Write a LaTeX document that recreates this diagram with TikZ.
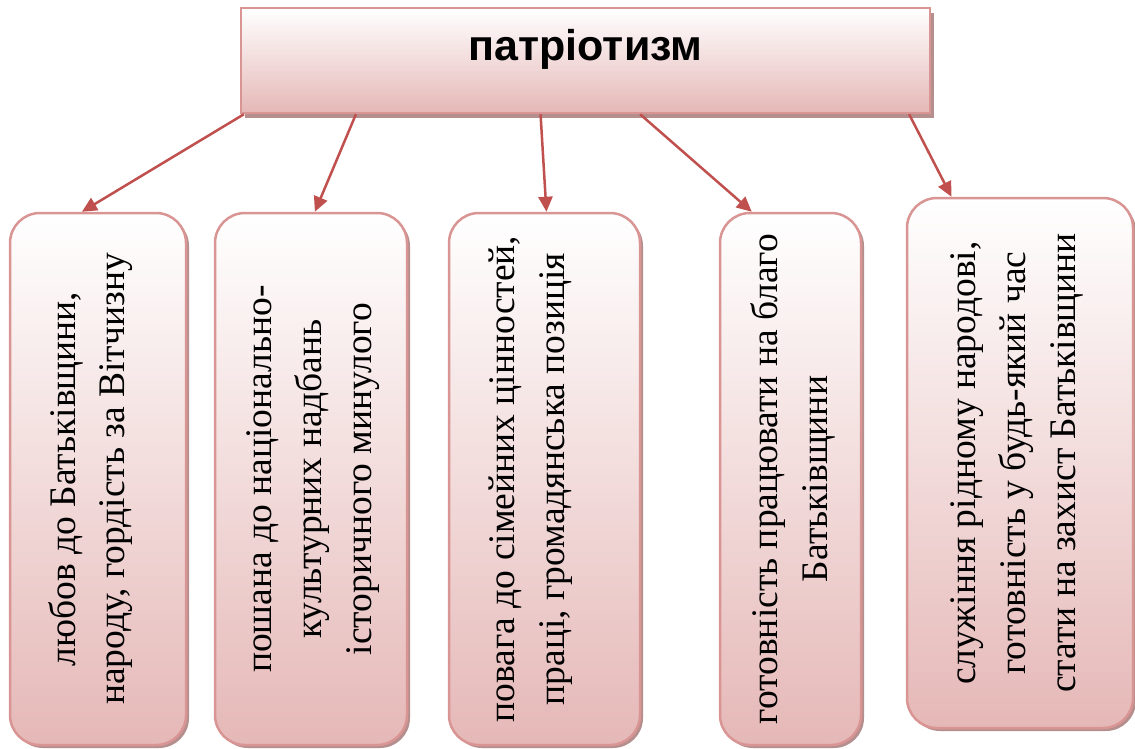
\documentclass[tikz,border=0pt]{standalone}
\usepackage{fontspec}
\setmainfont{Liberation Serif}
\newfontfamily\headfont{Liberation Sans}
\usetikzlibrary{shadows,arrows.meta,calc}
\definecolor{boxline}{HTML}{D99594}
\definecolor{boxfill}{HTML}{E5B8B7}
\definecolor{arrowcol}{HTML}{C0504D}
\definecolor{shadowcol}{HTML}{B48F8E}
\newcommand{\vlines}[2][0pt]{\hspace*{#1}\rotatebox{90}{\fontsize{37.5}{50}\selectfont\begin{tabular}{@{}c@{}}#2\end{tabular}}}
\begin{document}
\begin{tikzpicture}[x=1pt,y=-1pt,
  card/.style={draw=boxline, line width=2.5pt, rounded corners=30pt,
    top color=white, bottom color=boxfill, inner sep=0pt,
    drop shadow={shadow xshift=3pt, shadow yshift=-3pt, fill=shadowcol, opacity=1}},
  headbox/.style={draw=boxline, line width=2.5pt, top color=white, bottom color=boxfill,
    inner sep=0pt, minimum width=689pt, minimum height=105pt,
    text height=31pt, text depth=31pt,
    drop shadow={shadow xshift=4pt, shadow yshift=-5pt, fill=shadowcol, opacity=1}},
  link/.style={draw=arrowcol, line width=2.5pt, -{Triangle[length=15pt,width=14pt]}}]
\useasboundingbox (0,0) rectangle (1135,749);
\node[headbox] (top) at (585.5,60.5) {\headfont\bfseries\fontsize{43}{50}\selectfont патріотизм};
\node[card, minimum width=176pt, minimum height=532pt] (b1) at (98,479)
  {\vlines[-16pt]{любов до Батьківщини,\\народу, гордість за Вітчизну}};
\node[card, minimum width=192pt, minimum height=532pt] (b2) at (311,479)
  {\vlines{пошана до національно-\\культурних надбань\\історичного минулого}};
\node[card, minimum width=191pt, minimum height=532pt] (b3) at (544.5,479)
  {\vlines[-30pt]{повага до сімейних цінностей,\\праці, громадянська позиція}};
\node[card, minimum width=141pt, minimum height=532pt] (b4) at (790.5,479)
  {\vlines[4pt]{готовність працювати на благо\\Батьківщини}};
\node[card, minimum width=226pt, minimum height=530pt] (b5) at (1020,463)
  {\vlines[-10pt]{служіння рідному народові,\\готовність у будь-який час\\стати на захист Батьківщини}};
\draw[link] ($(top.south west)!0.006!(top.south east)$) -- ($(b1.north west)!0.41!(b1.north east)$);
\draw[link] ($(top.south west)!0.168!(top.south east)$) -- ($(b2.north west)!0.52!(b2.north east)$);
\draw[link] ($(top.south west)!0.435!(top.south east)$) -- ($(b3.north west)!0.51!(b3.north east)$);
\draw[link] ($(top.south west)!0.579!(top.south east)$) -- ($(b4.north west)!0.23!(b4.north east)$);
\draw[link] ($(top.south west)!0.968!(top.south east)$) -- ($(b5.north west)!0.20!(b5.north east)$);
\end{tikzpicture}
\end{document}
